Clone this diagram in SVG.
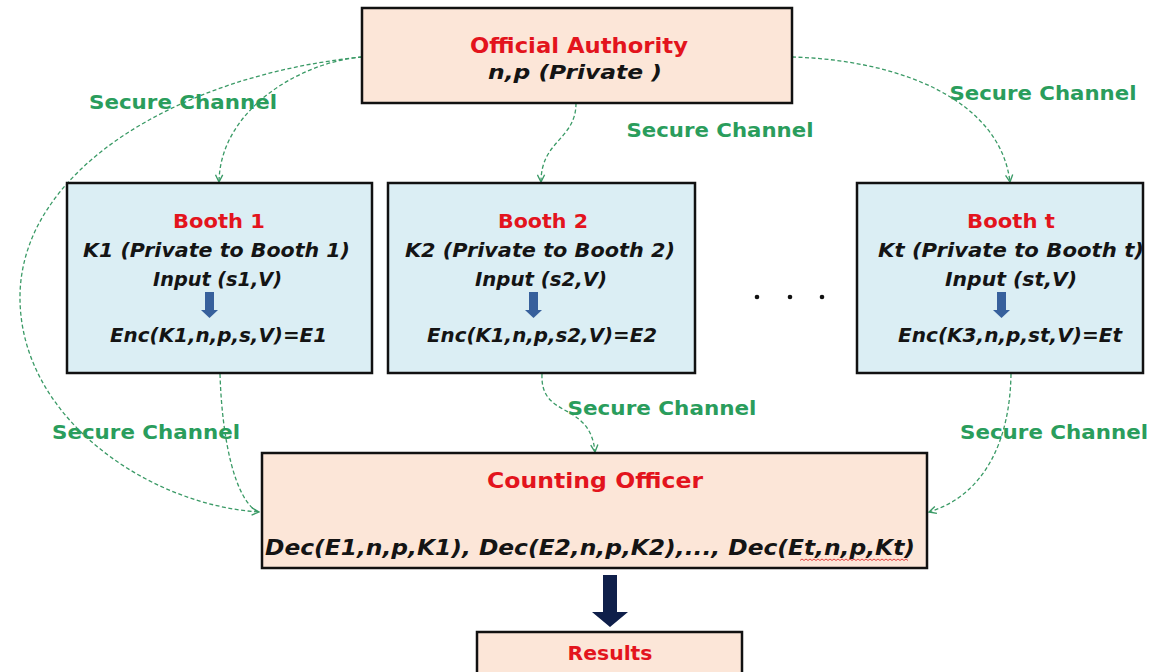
<svg xmlns="http://www.w3.org/2000/svg" width="1159" height="672" viewBox="0 0 1159 672">
<style>
.peach{fill:#fce6d8;stroke:#111;stroke-width:2.5}
.blue{fill:#dbeef4;stroke:#111;stroke-width:2.5}
text{font-family:"DejaVu Sans","Liberation Sans",sans-serif;font-weight:bold;text-anchor:middle}
.red{fill:#e3141d}
.blk{fill:#141414;font-style:italic}
.lbl{fill:#2a9d5c;font-size:20px}
.conn{fill:none;stroke:#3a9a66;stroke-width:1.3;stroke-dasharray:4 2.5}
.barrow{fill:#37609c}
</style>
<defs>
<marker id="ah" viewBox="0 0 10 10" refX="9" refY="5" markerWidth="9" markerHeight="9" markerUnits="userSpaceOnUse" orient="auto">
<path d="M1,1 L9,5 L1,9" fill="none" stroke="#3a9a66" stroke-width="1.5"/>
</marker>
</defs>
<rect width="1159" height="672" fill="#fff"/>

<g id="connectors">
<path class="conn" marker-end="url(#ah)" d="M362,57 C300,62 220,110 219,182"/>
<path class="conn" marker-end="url(#ah)" d="M362,57 C180,75 18,170 20,300 C22,420 150,505 259,512"/>
<path class="conn" marker-end="url(#ah)" d="M576,103 C576,140 541,140 541,182"/>
<path class="conn" marker-end="url(#ah)" d="M792,57 C900,60 1000,100 1010,182"/>
<path class="conn" d="M220,374 C222,440 235,500 258,512"/>
<path class="conn" marker-end="url(#ah)" d="M542,374 C540,420 590,400 595,452"/>
<path class="conn" marker-end="url(#ah)" d="M1011,374 C1010,440 985,495 929,512"/>
<text class="lbl" x="183" y="109" textLength="188" lengthAdjust="spacingAndGlyphs">Secure Channel</text>
<text class="lbl" x="720" y="137" textLength="187" lengthAdjust="spacingAndGlyphs">Secure Channel</text>
<text class="lbl" x="1043" y="100" textLength="187" lengthAdjust="spacingAndGlyphs">Secure Channel</text>
<text class="lbl" x="146" y="439" textLength="188" lengthAdjust="spacingAndGlyphs">Secure Channel</text>
<text class="lbl" x="662" y="415" textLength="189" lengthAdjust="spacingAndGlyphs">Secure Channel</text>
<text class="lbl" x="1054" y="439" textLength="188" lengthAdjust="spacingAndGlyphs">Secure Channel</text>
<polygon fill="#0f1f4a" points="603,575 617,575 617,612 628,612 610,627 592,612 603,612"/>
</g>

<g id="official-authority">
<rect class="peach" x="362" y="8" width="430" height="95"/>
<text class="red" x="579" y="53" font-size="22" textLength="218" lengthAdjust="spacingAndGlyphs">Official Authority</text>
<text class="blk" x="575" y="79" font-size="20" textLength="174" lengthAdjust="spacingAndGlyphs">n,p (Private )</text>
</g>

<g id="booth-1">
<rect class="blue" x="67" y="183" width="305" height="190"/>
<text class="red" x="219" y="228" font-size="19" textLength="92" lengthAdjust="spacingAndGlyphs">Booth 1</text>
<text class="blk" x="216.5" y="257" font-size="19" textLength="267" lengthAdjust="spacingAndGlyphs">K1 (Private to Booth 1)</text>
<text class="blk" x="217.5" y="286" font-size="19" textLength="129" lengthAdjust="spacingAndGlyphs">Input (s1,V)</text>
<polygon class="barrow" points="205,292 214,292 214,310 218,310 209.5,318 201,310 205,310"/>
<text class="blk" x="218.5" y="342" font-size="19" textLength="217" lengthAdjust="spacingAndGlyphs">Enc(K1,n,p,s,V)=E1</text>
</g>

<g id="booth-2">
<rect class="blue" x="388" y="183" width="307" height="190"/>
<text class="red" x="543" y="228" font-size="19" textLength="90" lengthAdjust="spacingAndGlyphs">Booth 2</text>
<text class="blk" x="540" y="257" font-size="19" textLength="270" lengthAdjust="spacingAndGlyphs">K2 (Private to Booth 2)</text>
<text class="blk" x="541" y="286" font-size="19" textLength="132" lengthAdjust="spacingAndGlyphs">Input (s2,V)</text>
<polygon class="barrow" points="529,292 538,292 538,310 542,310 533.5,318 525,310 529,310"/>
<text class="blk" x="542" y="342" font-size="19" textLength="230" lengthAdjust="spacingAndGlyphs">Enc(K1,n,p,s2,V)=E2</text>
</g>

<g id="ellipsis">
<circle cx="757" cy="297" r="2.3" fill="#111"/>
<circle cx="790" cy="297" r="2.3" fill="#111"/>
<circle cx="822" cy="297" r="2.3" fill="#111"/>
</g>

<g id="booth-t">
<rect class="blue" x="857" y="183" width="286" height="190"/>
<text class="red" x="1011" y="228" font-size="19" textLength="88" lengthAdjust="spacingAndGlyphs">Booth t</text>
<text class="blk" x="1011" y="257" font-size="19" textLength="266" lengthAdjust="spacingAndGlyphs">Kt (Private to Booth t)</text>
<text class="blk" x="1011" y="286" font-size="19" textLength="132" lengthAdjust="spacingAndGlyphs">Input (st,V)</text>
<polygon class="barrow" points="997,292 1006,292 1006,310 1010,310 1001.5,318 993,310 997,310"/>
<text class="blk" x="1010" y="342" font-size="19" textLength="224" lengthAdjust="spacingAndGlyphs">Enc(K3,n,p,st,V)=Et</text>
</g>

<g id="counting-officer">
<rect class="peach" x="262" y="453" width="665" height="115"/>
<text class="red" x="595" y="488" font-size="21" textLength="216" lengthAdjust="spacingAndGlyphs">Counting Officer</text>
<text class="blk" x="590" y="555" font-size="22" textLength="650" lengthAdjust="spacingAndGlyphs">Dec(E1,n,p,K1), Dec(E2,n,p,K2),..., Dec(Et,n,p,Kt)</text>
<path d="M800,560.5 l2,-1.5 l2,1.5 l2,-1.5 l2,1.5 l2,-1.5 l2,1.5 l2,-1.5 l2,1.5 l2,-1.5 l2,1.5 l2,-1.5 l2,1.5 l2,-1.5 l2,1.5 l2,-1.5 l2,1.5 l2,-1.5 l2,1.5 l2,-1.5 l2,1.5 l2,-1.5 l2,1.5 l2,-1.5 l2,1.5 l2,-1.5 l2,1.5 l2,-1.5 l2,1.5 l2,-1.5 l2,1.5 l2,-1.5 l2,1.5 l2,-1.5 l2,1.5 l2,-1.5 l2,1.5 l2,-1.5 l2,1.5 l2,-1.5 l2,1.5 l2,-1.5 l2,1.5 l2,-1.5 l2,1.5 l2,-1.5 l2,1.5 l2,-1.5 l2,1.5 l2,-1.5 l2,1.5 l2,-1.5 l2,1.5 l2,-1.5 l2,1.5" fill="none" stroke="#e03030" stroke-width="0.9"/>
</g>

<g id="results">
<rect class="peach" x="477" y="632" width="265" height="50"/>
<text class="red" x="610" y="660" font-size="19" textLength="85" lengthAdjust="spacingAndGlyphs">Results</text>
</g>
</svg>
